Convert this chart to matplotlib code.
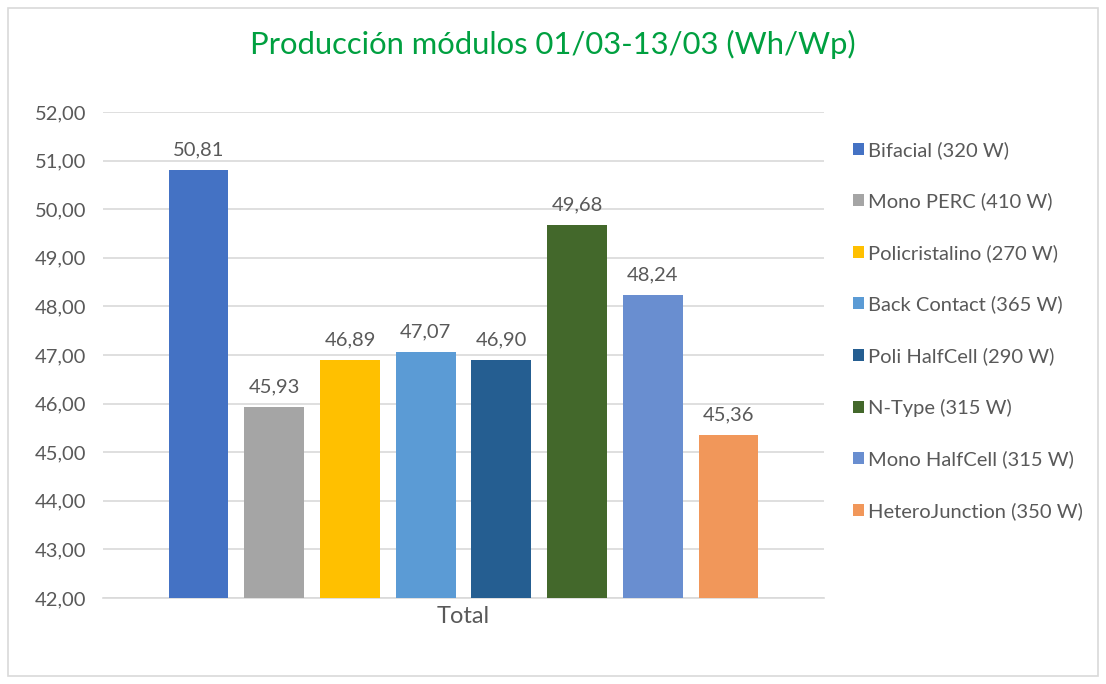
import matplotlib.pyplot as plt
from matplotlib.patches import Rectangle

# datos
modulos = ["Bifacial (320 W)", "Mono PERC (410 W)", "Policristalino (270 W)",
           "Back Contact (365 W)", "Poli HalfCell (290 W)", "N-Type (315 W)",
           "Mono HalfCell (315 W)", "HeteroJunction (350 W)"]
valores = [50.81, 45.93, 46.89, 47.07, 46.90, 49.68, 48.24, 45.36]
colores = ["#4472C4", "#A5A5A5", "#FFC000", "#5B9BD5",
           "#255E91", "#43682B", "#698ED0", "#F1975A"]
yticks = [42, 43, 44, 45, 46, 47, 48, 49, 50, 51, 52]

plt.rcParams["font.family"] = ["Lato", "DejaVu Sans"]
gris = "#595959"

fig = plt.figure(figsize=(11.06, 6.84), dpi=100)
W, H = 1106, 684

# marco exterior
fig.patches.append(Rectangle((8 / W, 8 / H), 1090 / W, 668 / H, transform=fig.transFigure,
                             fill=False, edgecolor="#D9D9D9", lw=1.2))

ax = fig.add_axes([103 / W, (H - 598) / H, (824 - 103) / W, (598 - 112) / H])

for i, v in enumerate(valores):
    ax.bar(i, v - 42, bottom=42, width=60 / 76, color=colores[i], label=modulos[i], zorder=3)
    ax.text(i, v + 0.24, f"{v:.2f}".replace(".", ","), ha="center", va="bottom",
            fontsize=14.5, color=gris)

ax.set_ylim(42, 52)
ax.set_xlim(-96 / 76, 7 + 96 / 76)
ax.set_yticks(yticks)
ax.set_yticklabels([f"{t:.2f}".replace(".", ",") for t in yticks], fontsize=14.5, color=gris)
ax.set_xticks([3.5])
ax.set_xticklabels(["Total"], fontsize=17, color=gris)
ax.tick_params(axis="both", length=0)
ax.tick_params(axis="y", pad=12)
ax.tick_params(axis="x", pad=5.5)
ax.grid(axis="y", color="#D9D9D9", lw=1.2, zorder=0)
for s in ["top", "right", "left"]:
    ax.spines[s].set_visible(False)
ax.spines["bottom"].set_color("#D9D9D9")
ax.spines["bottom"].set_linewidth(1.2)

fig.text(553 / W, (H - 44) / H, "Producción módulos 01/03-13/03 (Wh/Wp)", ha="center", va="center",
         fontsize=22.3, color="#00A040")

leg = fig.legend(loc="upper left", bbox_to_anchor=(853 / W, (H - 141) / H), frameon=False,
                 fontsize=14.5, labelcolor=gris, handlelength=0.55, handleheight=0.55,
                 handletextpad=0.2, labelspacing=1.67, borderpad=0, borderaxespad=0)

fig.savefig("out.png", dpi=100)
